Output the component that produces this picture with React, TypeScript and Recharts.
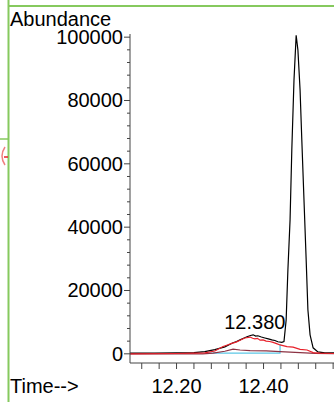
import React from "react";
import { LineChart, Line, XAxis, YAxis, ReferenceDot } from "recharts";

// retention time (min) / abundance
const blackTime = [
  12.093, 12.15, 12.2, 12.24, 12.265, 12.288, 12.311, 12.33, 12.338, 12.346,
  12.354, 12.362, 12.37, 12.376, 12.382, 12.387, 12.395, 12.403, 12.411,
  12.419, 12.426, 12.433, 12.442, 12.447, 12.452, 12.456, 12.461, 12.465,
  12.47, 12.475, 12.479, 12.484, 12.488, 12.493, 12.498, 12.502, 12.507,
  12.514, 12.525, 12.541, 12.562,
];
const blackAbund = [
  200, 200, 300, 400, 700, 1300, 2200, 3500, 3900, 4400, 4900, 5400, 5800,
  6000, 5600, 5700, 5300, 5000, 4700, 4400, 4200, 3800, 3600, 3900, 10700,
  26500, 42300, 64400, 86400, 100600, 96000, 83300, 67500, 48600, 29700,
  13900, 6000, 1900, 600, 300, 300,
];

const redTime = [
  12.093, 12.2, 12.24, 12.265, 12.288, 12.307, 12.317, 12.327, 12.337,
  12.346, 12.357, 12.369, 12.375, 12.38, 12.386, 12.392, 12.399, 12.406,
  12.414, 12.422, 12.43, 12.438, 12.454, 12.468, 12.484, 12.5, 12.514, 12.53,
  12.562,
];
const redAbund = [
  0, 100, 200, 300, 900, 2300, 2800, 3300, 3700, 4300, 5000, 5300, 4900, 4700,
  4900, 4300, 4400, 4000, 3900, 3600, 3200, 2800, 2300, 2100, 1400, 1200, 400,
  200, 100,
];

const darkRedTime = [
  12.093, 12.26, 12.284, 12.311, 12.33, 12.346, 12.369, 12.406, 12.438,
  12.484, 12.518, 12.562,
];
const darkRedAbund = [0, 0, 200, 800, 1500, 1200, 1000, 900, 700, 400, 150, 50];

const baselineTime = [12.269, 12.438, 12.438];
const baselineAbund = [200, 200, 3000];

const xTicks = [
  12.12, 12.16, 12.2, 12.24, 12.28, 12.32, 12.36, 12.4, 12.44, 12.48, 12.52,
  12.56,
];
const xLabeled = [12.2, 12.4];
const yTicks = [
  0, 4000, 8000, 12000, 16000, 20000, 24000, 28000, 32000, 36000, 40000,
  44000, 48000, 52000, 56000, 60000, 64000, 68000, 72000, 76000, 80000, 84000,
  88000, 92000, 96000, 100000,
];

const peakTime = 12.38;
const peakAbund = 6000;

function zip(ts: number[], vs: number[]) {
  return ts.map((t, i) => ({ t, a: vs[i] }));
}

const AXIS = "#444";

function YTick({ x, y, payload }: any) {
  const major = payload.value % 20000 === 0;
  return (
    <g>
      <line x1={x - (major ? 6 : 3)} x2={x} y1={y} y2={y} stroke={AXIS} />
      {major && (
        <text x={x - 7} y={y + 7} textAnchor="end" fontSize={20} fill="#000">
          {payload.value}
        </text>
      )}
    </g>
  );
}

function XTick({ x, y, payload }: any) {
  const v = payload.value as number;
  const major = xLabeled.some((l) => Math.abs(l - v) < 1e-6);
  return (
    <g>
      <line x1={x} x2={x} y1={y} y2={y + 6} stroke={AXIS} />
      {major && (
        <text x={x} y={y + 30} textAnchor="middle" fontSize={20} fill="#000">
          {v.toFixed(2)}
        </text>
      )}
    </g>
  );
}

export default function App() {
  return (
    <div
      style={{
        position: "absolute",
        left: 0,
        top: 0,
        width: 334,
        height: 402,
        background: "#fff",
        fontFamily: "'Liberation Sans', Arial, sans-serif",
      }}
    >
      <LineChart
        width={334}
        height={402}
        margin={{ top: 34, right: 0, bottom: 0, left: 0 }}
      >
        <XAxis
          type="number"
          dataKey="t"
          domain={[12.093, 12.562]}
          ticks={xTicks}
          allowDataOverflow
          height={39}
          tickSize={0}
          tickMargin={0}
          tickLine={false}
          axisLine={{ stroke: AXIS }}
          tick={<XTick />}
          interval={0}
        />
        <YAxis
          type="number"
          dataKey="a"
          domain={[-2900, 101000]}
          ticks={yTicks}
          allowDataOverflow
          width={130}
          tickSize={0}
          tickMargin={0}
          tickLine={false}
          axisLine={{ stroke: AXIS }}
          tick={<YTick />}
          interval={0}
        />
        <Line
          data={zip(baselineTime, baselineAbund)}
          dataKey="a"
          stroke="#5cc8e6"
          strokeWidth={1.2}
          dot={false}
          isAnimationActive={false}
        />
        <Line
          data={zip(darkRedTime, darkRedAbund)}
          dataKey="a"
          stroke="#8c3344"
          strokeWidth={1.2}
          dot={false}
          isAnimationActive={false}
        />
        <Line
          data={zip(blackTime, blackAbund)}
          dataKey="a"
          stroke="#000"
          strokeWidth={1.2}
          dot={false}
          isAnimationActive={false}
        />
        <Line
          data={zip(redTime, redAbund)}
          dataKey="a"
          stroke="#e8202a"
          strokeWidth={1.2}
          dot={false}
          isAnimationActive={false}
        />
        <ReferenceDot
          x={peakTime}
          y={peakAbund}
          r={0}
          stroke="none"
          fill="none"
          label={{ value: "12.380", position: "top", offset: 6, fontSize: 20, fill: "#000" }}
        />
      </LineChart>
      <svg
        width={334}
        height={402}
        style={{ position: "absolute", left: 0, top: 0, pointerEvents: "none" }}
      >
        <line x1={8.5} x2={8.5} y1={0} y2={402} stroke="#86c95e" strokeWidth={2} />
        <line x1={9} x2={334} y1={6} y2={6} stroke="#86c95e" strokeWidth={2} />
        <line x1={0} x2={8} y1={139} y2={139} stroke="#86c95e" strokeWidth={1.5} />
        <path d="M5,147 Q-1,156 5,165" stroke="#f08080" fill="none" strokeWidth={1.5} />
        <line x1={4} x2={8} y1={157} y2={157} stroke="#e8202a" strokeWidth={1.5} />
        <text x={10} y={26} fontSize={20} fill="#000">
          Abundance
        </text>
        <text x={10} y={393} fontSize={20} fill="#000">
          Time--&gt;
        </text>
      </svg>
    </div>
  );
}
